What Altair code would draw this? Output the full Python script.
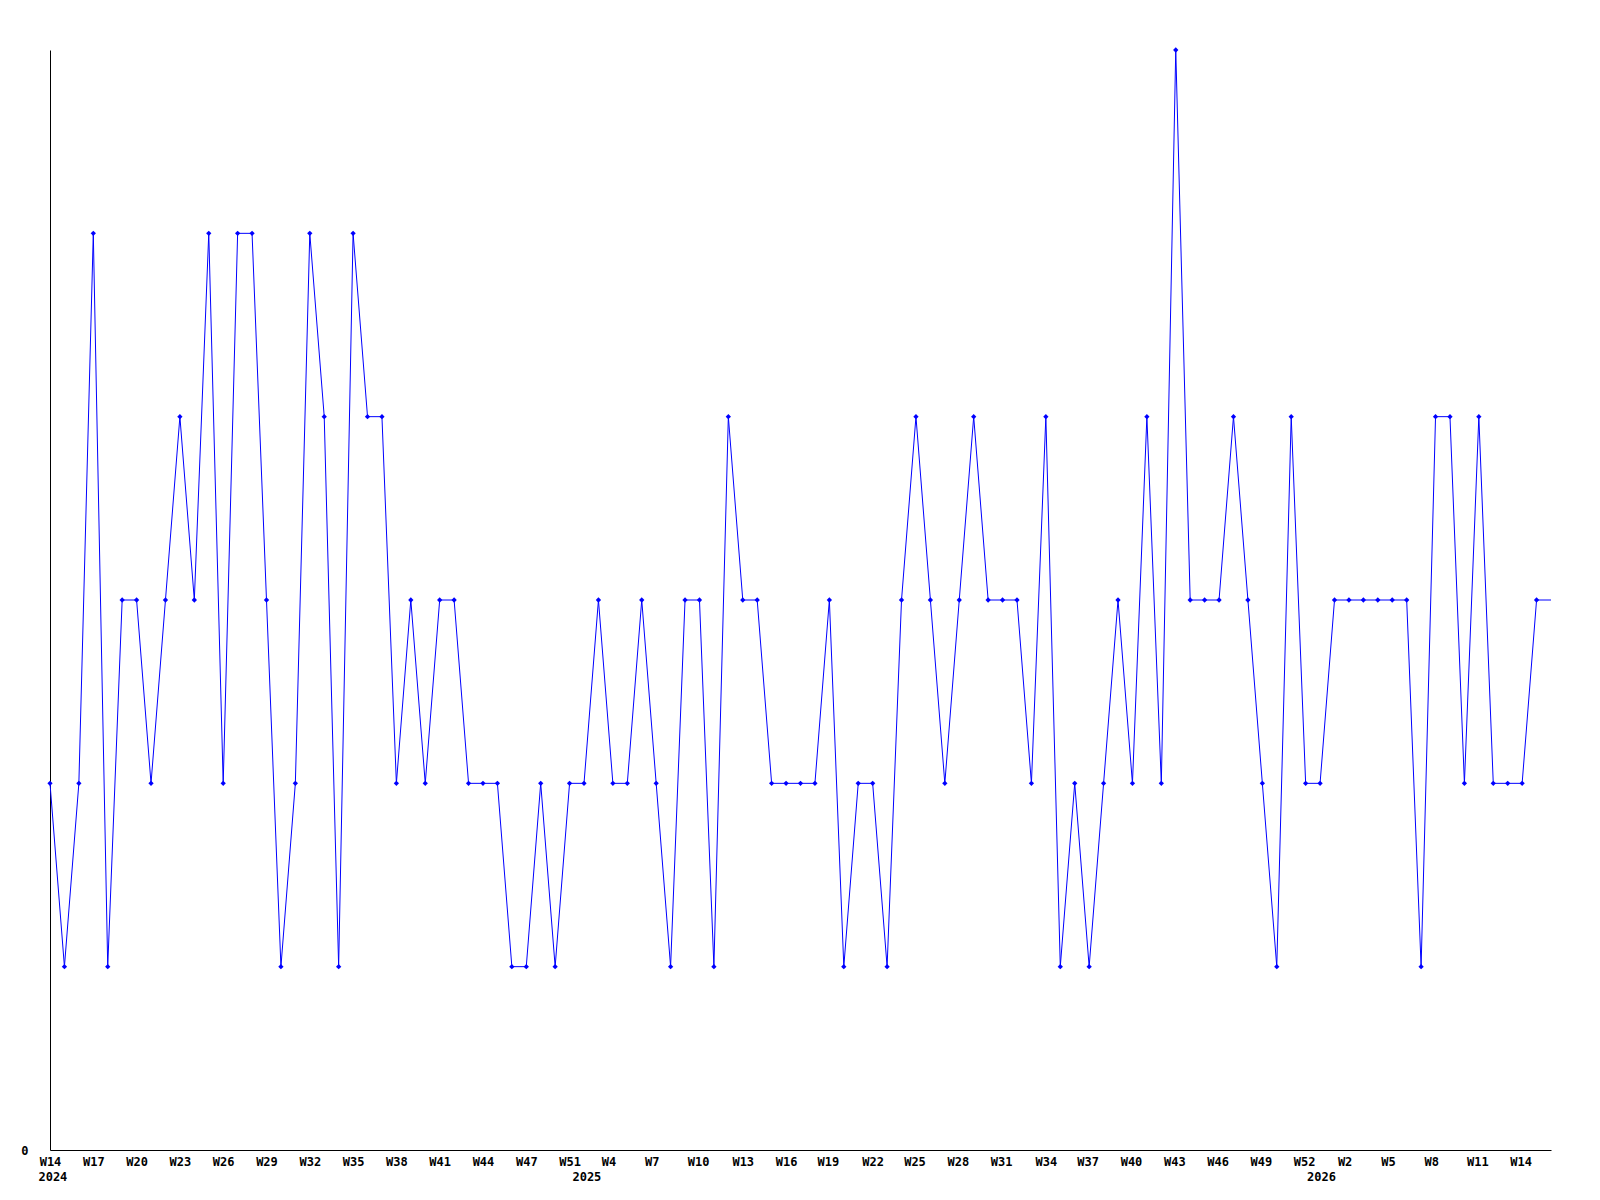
import altair as alt
import pandas as pd

# weekly values (index 0 = W14 2024); last value is the trailing segment without a marker
values = [2, 1, 2, 5, 1, 3, 3, 2, 3, 4, 3, 5, 2, 5, 5, 3, 1, 2, 5, 4,
          1, 5, 4, 4, 2, 3, 2, 3, 3, 2, 2, 2, 1, 1, 2, 1, 2, 2, 3, 2,
          2, 3, 2, 1, 3, 3, 1, 4, 3, 3, 2, 2, 2, 2, 3, 1, 2, 2, 1, 3,
          4, 3, 2, 3, 4, 3, 3, 3, 2, 4, 1, 2, 1, 2, 3, 2, 4, 2, 6, 3,
          3, 3, 4, 3, 2, 1, 4, 2, 2, 3, 3, 3, 3, 3, 3, 1, 4, 4, 2, 4,
          2, 2, 2, 3, 3]

tick_pos = [0, 3, 6, 9, 12, 15, 18, 21, 24, 27, 30, 33, 36, 38.7, 41.7, 44.9,
            48, 51, 53.9, 57, 59.9, 62.9, 65.9, 69, 71.9, 74.9, 77.9, 80.9,
            83.9, 86.9, 89.7, 92.7, 95.7, 98.9, 101.9]
tick_labels = ["W14", "W17", "W20", "W23", "W26", "W29", "W32", "W35", "W38",
               "W41", "W44", "W47", "W51", "W4", "W7", "W10", "W13", "W16",
               "W19", "W22", "W25", "W28", "W31", "W34", "W37", "W40", "W43",
               "W46", "W49", "W52", "W2", "W5", "W8", "W11", "W14"]

years = ["2024", "2025", "2026"]
year_pos = [0.2, 37.2, 88.1]

n_markers = 104

df = pd.DataFrame({"idx": list(range(len(values))), "value": values})
df_pts = df[df["idx"] < n_markers]
df_years = pd.DataFrame({"idx": year_pos, "year": years})

FONT = "DejaVu Sans Mono"

label_expr = "[" + ",".join("'%s'" % t for t in tick_labels) + "][indexof([" + \
    ",".join(str(p) for p in tick_pos) + "], datum.value)]"

xscale = alt.Scale(domain=[0, 104], nice=False, zero=False)
yscale = alt.Scale(domain=[0, 6], nice=False, zero=True)

xaxis = alt.Axis(values=tick_pos, labelExpr=label_expr, title=None, grid=False,
                 ticks=False, labelPadding=6, labelOverlap=False, labelFlush=False,
                 labelFont=FONT, labelFontWeight="bold", labelFontSize=12,
                 labelColor="black", domainColor="black", domainWidth=1)
yaxis = alt.Axis(values=[0], format="d", title=None, grid=False, ticks=False,
                 labelPadding=22, labelFont=FONT, labelFontWeight="bold",
                 labelFontSize=12, labelColor="black", domainColor="black",
                 domainWidth=1)

line = alt.Chart(df).mark_line(color="#0000ff", strokeWidth=1).encode(
    x=alt.X("idx:Q", scale=xscale, axis=xaxis),
    y=alt.Y("value:Q", scale=yscale, axis=yaxis),
)

pts = alt.Chart(df_pts).mark_point(shape="diamond", filled=True, size=28,
                                   color="#0000ff", opacity=1).encode(
    x=alt.X("idx:Q", scale=xscale),
    y=alt.Y("value:Q", scale=yscale),
)

year_text = alt.Chart(df_years).mark_text(font=FONT, fontWeight="bold", fontSize=12,
                                          color="black", baseline="middle").encode(
    x=alt.X("idx:Q", scale=xscale),
    y=alt.value(1127),
    text="year:N",
)

chart = alt.layer(line, pts, year_text).properties(
    width=1501, height=1100,
    autosize=alt.AutoSizeParams(type="none"),
    padding={"left": 42, "top": 42, "right": 30, "bottom": 50},
    background="white",
).configure_view(stroke=None)

chart.save("out.html", embed_options={"renderer": "svg", "actions": False})
